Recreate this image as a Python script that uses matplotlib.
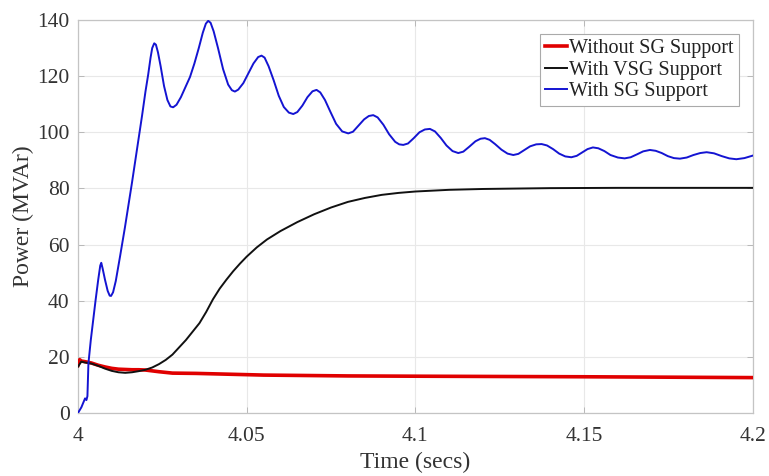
import matplotlib
matplotlib.use("Agg")
import matplotlib.pyplot as plt

plt.rcParams['font.family'] = ['Liberation Serif', 'DejaVu Serif']

# Reactive power response after the disturbance at t = 4 s
t_without = [4.000, 4.0005, 4.001, 4.002, 4.004, 4.006, 4.008, 4.010, 4.012, 4.014,
             4.016, 4.018, 4.020, 4.024, 4.028, 4.035, 4.045, 4.055, 4.080, 4.100,
             4.150, 4.200]
p_without = [17.0, 19.0, 18.5, 18.3, 17.8, 17.0, 16.4, 15.9, 15.6, 15.5,
             15.4, 15.4, 15.3, 14.7, 14.2, 14.1, 13.8, 13.5, 13.2, 13.1,
             12.9, 12.6]

t_vsg = [4.000, 4.001, 4.002, 4.004, 4.006, 4.008, 4.010, 4.012, 4.014, 4.016,
         4.018, 4.020, 4.022, 4.024, 4.026, 4.028, 4.030, 4.032, 4.034, 4.036,
         4.038, 4.040, 4.042, 4.044, 4.046, 4.048, 4.050, 4.053, 4.056, 4.060,
         4.065, 4.070, 4.075, 4.080, 4.085, 4.090, 4.095, 4.100, 4.110, 4.120,
         4.140, 4.160, 4.180, 4.200]
p_vsg = [16.5, 18.3, 18.0, 17.6, 16.8, 15.8, 15.0, 14.5, 14.3, 14.5,
         14.9, 15.4, 16.2, 17.4, 18.9, 20.8, 23.4, 26.0, 29.0, 32.0,
         36.0, 40.5, 44.3, 47.5, 50.5, 53.2, 55.7, 59.0, 61.8, 64.8,
         68.0, 70.8, 73.2, 75.2, 76.6, 77.7, 78.4, 78.9, 79.5, 79.8,
         80.1, 80.2, 80.2, 80.2]

t_sg = [4.0000, 4.0010, 4.0016, 4.0021, 4.0025, 4.0028, 4.0031, 4.0038, 4.0045, 4.0052,
        4.0060, 4.0066, 4.0069, 4.0073, 4.0080, 4.0088, 4.0094, 4.0098, 4.0104, 4.0112,
        4.0125, 4.0139, 4.0160, 4.0180, 4.0190, 4.0200, 4.0208, 4.0215, 4.0220, 4.0226,
        4.0231, 4.0237, 4.0245, 4.0255, 4.0265, 4.0274, 4.0282, 4.0292, 4.0305, 4.0320,
        4.0332, 4.0345, 4.0358, 4.0370, 4.0379, 4.0386, 4.0393, 4.0402, 4.0415, 4.0430,
        4.0445, 4.0456, 4.0465, 4.0475, 4.0490, 4.0505, 4.0520, 4.0534, 4.0544, 4.0553,
        4.0565, 4.0580, 4.0595, 4.0610, 4.0625, 4.0638, 4.0650, 4.0665, 4.0680, 4.0695,
        4.0707, 4.0718, 4.0732, 4.0748, 4.0765, 4.0783, 4.0801, 4.0815, 4.0830, 4.0848,
        4.0862, 4.0875, 4.0888, 4.0905, 4.0922, 4.0940, 4.0952, 4.0964, 4.0978, 4.0995,
        4.1012, 4.1028, 4.1043, 4.1058, 4.1075, 4.1092, 4.1110, 4.1127, 4.1142, 4.1160,
        4.1178, 4.1193, 4.1206, 4.1220, 4.1236, 4.1255, 4.1273, 4.1290, 4.1305, 4.1322,
        4.1340, 4.1358, 4.1374, 4.1390, 4.1408, 4.1426, 4.1444, 4.1462, 4.1478, 4.1494,
        4.1510, 4.1526, 4.1542, 4.1560, 4.1578, 4.1600, 4.1620, 4.1638, 4.1656, 4.1675,
        4.1695, 4.1712, 4.1730, 4.1748, 4.1766, 4.1784, 4.1804, 4.1824, 4.1844, 4.1863,
        4.1885, 4.1908, 4.1930, 4.1951, 4.1975, 4.2000]
p_sg = [0.0, 2.0, 3.7, 5.2, 4.6, 6.0, 17.7, 26.0, 33.1, 40.0,
        47.5, 52.5, 53.5, 51.5, 47.5, 43.5, 41.8, 41.7, 43.0, 47.0,
        56.0, 66.0, 82.0, 98.0, 106.0, 114.5, 120.5, 126.5, 130.0, 131.7,
        131.2, 128.5, 123.5, 116.5, 111.5, 109.2, 108.9, 109.8, 112.5, 116.5,
        119.7, 124.5, 130.0, 135.5, 138.7, 139.7, 139.0, 136.0, 130.0, 122.5,
        117.0, 115.0, 114.5, 115.2, 117.5, 121.0, 124.5, 126.8, 127.3, 126.6,
        123.5, 118.5, 113.0, 109.0, 107.0, 106.5, 107.2, 109.5, 112.5, 114.6,
        115.1, 114.2, 111.5, 107.3, 103.0, 100.3, 99.6, 100.2, 102.2, 104.6,
        105.8, 106.1, 105.3, 102.7, 99.3, 96.6, 95.7, 95.5, 96.0, 97.9,
        100.0, 101.0, 101.2, 100.3, 98.0, 95.3, 93.3, 92.6, 93.1, 94.9,
        96.8, 97.7, 97.9, 97.3, 95.8, 93.8, 92.4, 91.9, 92.3, 93.6,
        95.0, 95.7, 95.8, 95.3, 94.0, 92.4, 91.4, 91.1, 91.6, 92.8,
        94.0, 94.6, 94.3, 93.3, 91.9, 91.0, 90.7, 91.1, 92.1, 93.2,
        93.7, 93.4, 92.6, 91.5, 90.8, 90.6, 91.0, 91.9, 92.6, 92.9,
        92.5, 91.5, 90.7, 90.4, 90.8, 91.7]

x_ticks = [4.0, 4.05, 4.1, 4.15, 4.2]
x_tick_labels = ['4', '4.05', '4.1', '4.15', '4.2']
y_ticks = [0, 20, 40, 60, 80, 100, 120, 140]

fig = plt.figure(figsize=(7.69, 4.76), dpi=100)
ax = fig.add_axes([0.1014, 0.1324, 0.8776, 0.8256])

ax.plot(t_without, p_without, color='#e00000', lw=2.6, label='Without SG Support',
        zorder=3, solid_joinstyle='round')
ax.plot(t_vsg, p_vsg, color='#111111', lw=1.4, label='With VSG Support',
        zorder=4, solid_joinstyle='round')
ax.plot(t_sg, p_sg, color='#1414d2', lw=1.4, label='With SG Support',
        zorder=5, solid_joinstyle='round')

ax.set_xlim(4.0, 4.2)
ax.set_ylim(0, 140)
ax.set_xticks(x_ticks)
ax.set_xticklabels(x_tick_labels)
ax.set_yticks(y_ticks)

ax.grid(True, color='#e8e8e8', lw=0.8)
ax.set_axisbelow(True)
for s in ax.spines.values():
    s.set_color('#c4c4c4')
    s.set_linewidth(0.9)
ax.tick_params(direction='in', length=4, width=0.6, color='#b0b0b0',
               top=True, right=True, labelsize=15.5, labelcolor='#333333')
ax.tick_params(axis='x', pad=10)
ax.tick_params(axis='y', pad=6)

ax.set_xlabel('Time (secs)', fontsize=17, color='#333333', labelpad=4)
ax.set_ylabel('Power (MVAr)', fontsize=17, color='#333333', labelpad=2)

leg = ax.legend(loc='upper right', fontsize=14.5, frameon=True, fancybox=False,
                framealpha=1, edgecolor='#aaaaaa', handlelength=1.1,
                handletextpad=0.1, labelspacing=0.12, borderpad=0.25,
                borderaxespad=0.7)
leg.get_frame().set_linewidth(0.8)
for txt in leg.get_texts():
    txt.set_color('#222222')

fig.savefig('out.png', dpi=100, facecolor='white')
